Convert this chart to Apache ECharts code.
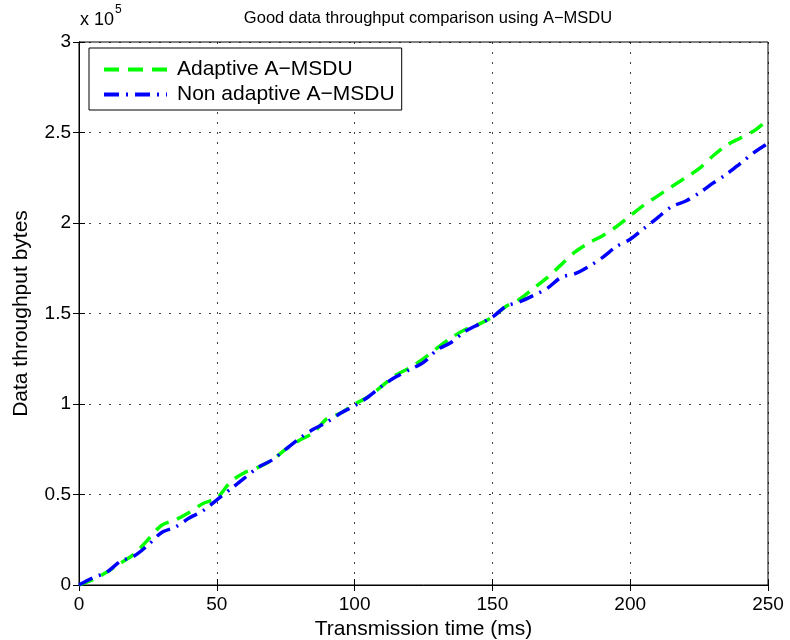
<!DOCTYPE html>
<html>
<head>
<meta charset="utf-8">
<script src="https://cdn.jsdelivr.net/npm/echarts@6/dist/echarts.min.js"></script>
<style>html,body{margin:0;padding:0;background:#fff}#c{width:790px;height:640px}</style>
</head>
<body>
<div id="c"></div>
<script>
// time in ms
var times = [0,5,10,15,20,25,30,35,40,45,50,55,60,65,70,75,80,85,90,95,100,105,110,115,120,125,130,135,140,145,150,155,160,165,170,175,180,185,190,195,200,205,210,215,220,225,230,235,240,245,250];
// throughput in units of 10^5 bytes
var adaptive = [0,0.03,0.07,0.12,0.17,0.25,0.33,0.36,0.40,0.45,0.48,0.57,0.62,0.65,0.69,0.75,0.80,0.84,0.92,0.95,1.00,1.04,1.10,1.16,1.20,1.25,1.31,1.365,1.41,1.44,1.48,1.54,1.58,1.64,1.70,1.77,1.84,1.89,1.93,1.98,2.04,2.10,2.15,2.20,2.25,2.30,2.37,2.43,2.47,2.51,2.57];
var nonAdaptive = [0,0.04,0.07,0.13,0.16,0.22,0.29,0.32,0.37,0.41,0.47,0.53,0.59,0.65,0.69,0.75,0.81,0.86,0.90,0.95,0.99,1.04,1.10,1.15,1.19,1.23,1.30,1.34,1.40,1.44,1.48,1.54,1.565,1.60,1.64,1.70,1.72,1.76,1.81,1.87,1.91,1.97,2.03,2.09,2.12,2.165,2.22,2.27,2.33,2.39,2.44];
var seriesNames = ['Adaptive A\u2212MSDU','Non adaptive A\u2212MSDU'];
var xTicks = [0,50,100,150,200,250];
var yTicks = [0,0.5,1,1.5,2,2.5,3];

function pairs(xs, ys){ return xs.map(function(x,i){return [x, ys[i]];}); }
var FONT = 'Liberation Sans, Arial, sans-serif';
var chart = echarts.init(document.getElementById('c'), null, {renderer:'canvas'});
var gridLine = {show:true, lineStyle:{color:'#000', type:[2,8], width:1, opacity:0.75}};
chart.setOption({
  animation:false,
  backgroundColor:'#fff',
  title:{text:'Good data throughput comparison using A\u2212MSDU', left:423, textAlign:'center', top:5,
    textStyle:{fontFamily:FONT, fontSize:16.5, fontWeight:'normal', color:'#000'}},
  grid:{left:79, right:22, top:42, bottom:55, show:true, borderColor:'#000', borderWidth:1,
    containLabel:false, outerBoundsMode:'none'},
  legend:{left:89, top:48, orient:'vertical', itemWidth:63, itemHeight:20, itemGap:4,
    padding:[11,7,5,13], borderColor:'#000', borderWidth:1, borderRadius:0, backgroundColor:'#fff',
    itemStyle:{opacity:0}, lineStyle:{width:4},
    textStyle:{fontFamily:FONT, fontSize:21, color:'#000', padding:[0,0,0,5]}, data:seriesNames},
  xAxis:[{type:'value', min:0, max:250, interval:50, position:'bottom',
    name:'Transmission time (ms)', nameLocation:'middle', nameGap:29,
    nameTextStyle:{fontFamily:FONT, fontSize:21, color:'#000'},
    axisLine:{show:true, lineStyle:{color:'#000'}},
    axisTick:{show:true, inside:true, length:6, lineStyle:{color:'#000'}},
    axisLabel:{fontFamily:FONT, fontSize:19, color:'#000', margin:10},
    splitLine:gridLine},
   {type:'value', min:0, max:250, interval:50, position:'top',
    axisLine:{show:true, lineStyle:{color:'#000'}},
    axisTick:{show:true, inside:true, length:6, lineStyle:{color:'#000'}},
    axisLabel:{show:false}, splitLine:{show:false}}],
  yAxis:[{type:'value', min:0, max:3, interval:0.5, position:'left',
    name:'Data throughput bytes', nameLocation:'middle', nameGap:47, nameRotate:90,
    nameTextStyle:{fontFamily:FONT, fontSize:21, color:'#000'},
    axisLine:{show:true, lineStyle:{color:'#000'}},
    axisTick:{show:true, inside:true, length:6, lineStyle:{color:'#000'}},
    axisLabel:{fontFamily:FONT, fontSize:19, color:'#000', margin:8},
    splitLine:gridLine},
   {type:'value', min:0, max:3, interval:0.5, position:'right',
    axisLine:{show:true, lineStyle:{color:'#000'}},
    axisTick:{show:true, inside:true, length:6, lineStyle:{color:'#000'}},
    axisLabel:{show:false}, splitLine:{show:false}}],
  graphic:[{type:'text', left:80, top:4, style:{
    text:'{a|x 10}{b|5}', rich:{a:{fontFamily:FONT, fontSize:18, fill:'#000', padding:[7,0,0,0]}, b:{fontFamily:FONT, fontSize:12, fill:'#000', verticalAlign:'top', padding:[0,0,0,1]}}}}],
  series:[
    {name:seriesNames[0], type:'line', data:pairs(times, adaptive), showSymbol:false, symbol:'none', smooth:0.3,
      lineStyle:{color:'#00ff00', width:3.5, type:[15,9]}, itemStyle:{color:'#00ff00'}, z:2},
    {name:seriesNames[1], type:'line', data:pairs(times, nonAdaptive), showSymbol:false, symbol:'none', smooth:0.3,
      lineStyle:{color:'#0000ff', width:3.5, type:[15,7,2,7]}, itemStyle:{color:'#0000ff'}, z:3}
  ]
});
</script>
</body>
</html>
